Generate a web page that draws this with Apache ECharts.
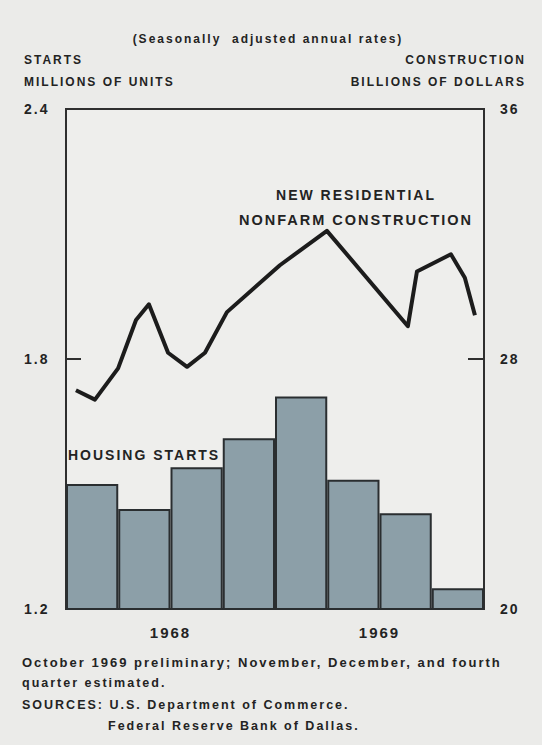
<!DOCTYPE html>
<html>
<head>
<meta charset="utf-8">
<script src="https://cdn.jsdelivr.net/npm/echarts@6/dist/echarts.min.js"></script>
<style>
  html, body { margin: 0; padding: 0; background: #ebebe9; }
  #chart { width: 542px; height: 745px; }
  /* the original uses wide letter spacing everywhere */
  #chart text { letter-spacing: 2px; }
</style>
</head>
<body>
<div id="chart"></div>
<script>
// housing starts, quarterly (millions of units)
var quarters = ['1968 Q1', '1968 Q2', '1968 Q3', '1968 Q4', '1969 Q1', '1969 Q2', '1969 Q3', '1969 Q4'];
var housingStarts = [1.50, 1.44, 1.54, 1.61, 1.71, 1.51, 1.43, 1.25];

// new residential nonfarm construction (billions of dollars), months since Jan 1968
var constructionMonth = [0.57, 1.66, 2.99, 4.02, 4.76, 5.86, 6.95, 7.98, 9.24, 12.28, 14.98, 19.63, 20.15, 22.10, 22.9, 23.48];
var constructionValue = [27.0, 26.7, 27.7, 29.25, 29.75, 28.2, 27.75, 28.2, 29.5, 31.0, 32.1, 29.05, 30.8, 31.35, 30.6, 29.4];

var yearLabels = ['1968', '1969'];
var yearCenters = [6, 18];

var FONT = 'Liberation Sans';
var INK = '#232323';

function txt(text, x, y, size, align) {
  return {
    type: 'text',
    style: {
      text: text, x: x, y: y,
      fill: INK,
      font: 'bold ' + size + 'px "' + FONT + '"',
      align: align || 'left', textAlign: align || 'left',
      verticalAlign: 'middle', textVerticalAlign: 'middle'
    }
  };
}

var chart = echarts.init(document.getElementById('chart'), null, { renderer: 'svg' });

var option = {
  backgroundColor: '#ebebe9',
  animation: false,
  textStyle: { fontFamily: FONT },
  grid: {
    left: 66, right: 58, top: 109, bottom: 136,
    show: true, borderColor: '#2f2f2f', borderWidth: 2,
    backgroundColor: '#eeeeec'
  },
  xAxis: [
    {
      type: 'category', data: quarters,
      axisLine: { show: false }, axisTick: { show: false }, axisLabel: { show: false }
    },
    {
      type: 'value', min: 0, max: 24, position: 'bottom',
      axisLine: { show: false }, axisTick: { show: false }, splitLine: { show: false },
      axisLabel: {
        customValues: yearCenters,
        margin: 16,
        color: INK, fontWeight: 'bold', fontSize: 15,
        formatter: function (v) { return yearLabels[yearCenters.indexOf(v)]; }
      }
    }
  ],
  yAxis: [
    {
      type: 'value', min: 1.2, max: 2.4, interval: 0.6,
      axisLine: { show: false }, splitLine: { show: false },
      axisTick: { show: true, inside: true, length: 15, lineStyle: { color: '#2f2f2f', width: 2 } },
      axisLabel: {
        align: 'left', margin: 42, color: INK, fontWeight: 'bold', fontSize: 14,
        formatter: function (v) { return v.toFixed(1); }
      }
    },
    {
      type: 'value', min: 20, max: 36, interval: 8, position: 'right',
      axisLine: { show: false }, splitLine: { show: false },
      axisTick: { show: true, inside: true, length: 16, lineStyle: { color: '#2f2f2f', width: 2 } },
      axisLabel: { align: 'left', margin: 16, color: INK, fontWeight: 'bold', fontSize: 14 }
    }
  ],
  series: [
    {
      name: 'Housing starts',
      type: 'bar',
      xAxisIndex: 0, yAxisIndex: 0,
      data: housingStarts,
      barCategoryGap: 0,
      itemStyle: { color: '#8c9fa8', borderColor: '#2a2e30', borderWidth: 2 }
    },
    {
      name: 'New residential nonfarm construction',
      type: 'line',
      xAxisIndex: 1, yAxisIndex: 1,
      data: constructionMonth.map(function (m, i) { return [m, constructionValue[i]]; }),
      showSymbol: false,
      lineStyle: { color: '#1c1c1c', width: 4, join: 'round' },
      z: 5
    }
  ],
  graphic: [
    txt('(Seasonally  adjusted annual rates)', 268, 39, 12, 'center'),
    txt('STARTS', 24, 60, 12),
    txt('MILLIONS OF UNITS', 24, 82, 12),
    txt('CONSTRUCTION', 526, 60, 12, 'right'),
    txt('BILLIONS OF DOLLARS', 526, 82, 12, 'right'),
    txt('NEW RESIDENTIAL', 356, 195, 14, 'center'),
    txt('NONFARM CONSTRUCTION', 356, 220, 14.5, 'center'),
    txt('HOUSING STARTS', 68, 455, 14),
    txt('October 1969 preliminary; November, December, and fourth', 22, 662, 13),
    txt('quarter estimated.', 22, 683, 12.5),
    txt('SOURCES: U.S. Department of Commerce.', 22, 705, 12.5),
    txt('Federal Reserve Bank of Dallas.', 108, 726, 12.5)
  ]
};

chart.setOption(option);
</script>
</body>
</html>
